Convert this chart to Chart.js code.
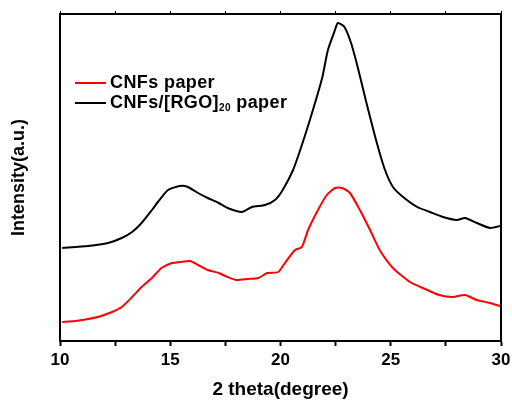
<!DOCTYPE html>
<html><head><meta charset="utf-8">
<script src="https://cdn.jsdelivr.net/npm/chart.js@4.4.0/dist/chart.umd.min.js"></script>
<style>html,body{margin:0;padding:0;background:#fff}#wrap{width:512px;height:401px}</style>
</head><body><div id="wrap"><canvas id="c" width="512" height="401"></canvas></div>
<script>
const seriesLabels = ["CNFs paper", "CNFs/[RGO]\u2082\u2080 paper"];
const twoTheta = [10.1,10.68,11.27,11.72,12.36,12.8,13.27,13.7,14.17,14.6,15.08,15.44,15.9,16.26,16.7,17.2,17.6,18.0,18.5,19.0,19.4,19.9,20.2,20.66,20.97,21.25,21.7,22.1,22.47,22.8,23.15,23.6,24.06,24.5,25.1,25.87,26.46,27.2,27.8,28.37,28.9,29.5,29.95];
const cnfs = [19,20,22,24,29,34,44,54,63,73,78,79,80,76,71,68,64,61,62,63,68,69,78,91,94,111,131,146,153,153,148,131,111,91,73,59,53,46,44,46,41,38,35];
const twoTheta2 = [10.1,11.27,12.18,12.8,13.27,13.7,14.17,14.44,14.9,15.44,15.8,16.26,16.7,17.2,17.6,18.25,18.7,19.3,19.75,20.1,20.57,21.0,21.47,21.9,22.15,22.47,22.6,22.9,23.2,23.5,23.9,24.37,24.74,25.1,25.56,26.2,26.78,27.37,28.0,28.37,28.9,29.5,29.95];
const rgo = [93,95,98,103,109,118,131,139,151,155,154,148,143,138,133,129,134,136,141,151,171,198,231,264,291,311,318,314,298,274,238,198,171,154,144,134,129,124,121,123,118,113,115];
const xTicks = [10,15,20,25,30];
const minorTicks = [10,12.5,15,17.5,20,22.5,25,27.5,30];

const legendPlugin = {
  id: 'customLegend',
  afterDraw(chart) {
    const ctx = chart.ctx;
    ctx.save();
    chart.data.datasets.forEach((ds, i) => {
      const y = 83 + i * 20;
      ctx.strokeStyle = ds.borderColor; ctx.lineWidth = 2;
      ctx.beginPath(); ctx.moveTo(75, y); ctx.lineTo(106, y); ctx.stroke();
      ctx.fillStyle = '#000'; ctx.textBaseline = 'middle';
      ctx.letterSpacing = '0.4px';
      let x = 110;
      const parts = ds.label.split(/([\u2080-\u2089]+)/);
      parts.forEach(p => {
        if (!p) return;
        if (/^[\u2080-\u2089]+$/.test(p)) {
          const s = p.split('').map(c => String.fromCharCode(c.charCodeAt(0) - 0x2080 + 48)).join('');
          ctx.font = 'bold 10px "Liberation Sans", Arial, sans-serif';
          ctx.fillText(s, x, y + 5); x += ctx.measureText(s).width;
        } else {
          ctx.font = 'bold 18px "Liberation Sans", Arial, sans-serif';
          ctx.fillText(p, x, y); x += ctx.measureText(p).width;
        }
      });
    });
    const a = chart.chartArea;
    ctx.strokeStyle = '#000'; ctx.lineWidth = 2;
    ctx.strokeRect(a.left, a.top, a.right - a.left, a.bottom - a.top);
    ctx.restore();
  }
};

new Chart(document.getElementById('c'), {
  type: 'line',
  data: {
    datasets: [
      { label: seriesLabels[0], data: twoTheta.map((x, i) => ({x, y: cnfs[i]})), borderColor: '#ff0000', borderWidth: 2, pointRadius: 0, tension: 0.2, xAxisID: 'x', yAxisID: 'y' },
      { label: seriesLabels[1], data: twoTheta2.map((x, i) => ({x, y: rgo[i]})), borderColor: '#000000', borderWidth: 2, pointRadius: 0, tension: 0.2, xAxisID: 'x', yAxisID: 'y' }
    ]
  },
  options: {
    responsive: false, animation: false,
    layout: { padding: { left: 0, right: 0, top: 0, bottom: 0 } },
    plugins: { legend: { display: false }, tooltip: { enabled: false } },
    scales: {
      x: {
        type: 'linear', position: 'bottom', min: 10, max: 30,
        afterBuildTicks(s) { s.ticks = minorTicks.map(v => ({value: v})); },
        afterFit(s) { s.height = 60; s.paddingRight = 11; },
        ticks: { autoSkip: false, maxRotation: 0, color: '#000', padding: 4,
          font: { family: '"Liberation Sans", Arial, sans-serif', size: 17, weight: 'bold' },
          callback: v => xTicks.includes(v) ? String(v) : '' },
        grid: { drawOnChartArea: false, tickLength: 5, tickWidth: 2, tickColor: '#000' },
        border: { color: '#000', width: 2 },
        title: { display: true, text: '2 theta(degree)', color: '#000', padding: { top: 1, bottom: 0 },
          font: { family: '"Liberation Sans", Arial, sans-serif', size: 19, weight: 'bold' } }
      },
      x2: {
        type: 'linear', position: 'top', min: 10, max: 30,
        afterBuildTicks(s) { s.ticks = minorTicks.map(v => ({value: v})); },
        afterFit(s) { s.height = 14; s.paddingRight = 11; s.paddingLeft = 0; },
        ticks: { display: false },
        grid: { drawOnChartArea: false, tickLength: 3, tickWidth: 1, tickColor: '#000' },
        border: { color: '#000', width: 2 }
      },
      y: {
        type: 'linear', position: 'left', min: 0, max: 327,
        afterFit(s) { s.width = 60; },
        ticks: { display: false },
        grid: { display: false },
        border: { color: '#000', width: 2 },
        title: { display: true, text: 'Intensity(a.u.)', color: '#000', padding: { top: 8, bottom: 0 },
          font: { family: '"Liberation Sans", Arial, sans-serif', size: 18, weight: 'bold' } }
      }
    }
  },
  plugins: [legendPlugin]
});
</script></body></html>
